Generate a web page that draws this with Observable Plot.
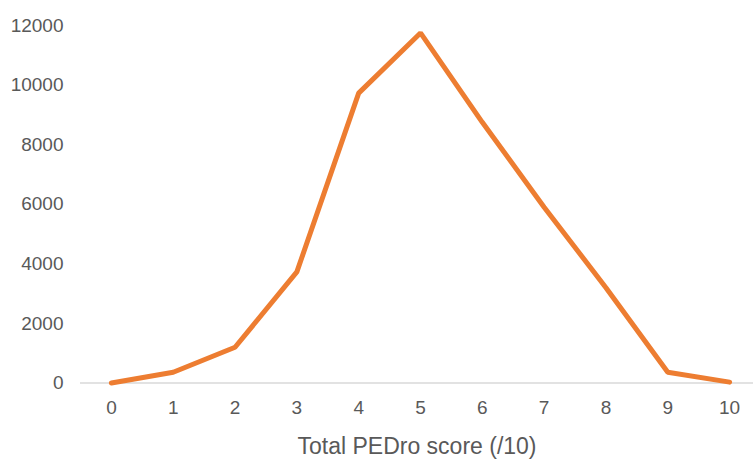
<!DOCTYPE html>
<html>
<head>
<meta charset="utf-8">
<script src="https://cdn.jsdelivr.net/npm/d3@7"></script>
<script src="https://cdn.jsdelivr.net/npm/@observablehq/plot@0.6"></script>
<style>
  html, body { margin: 0; padding: 0; background: #fff; }
  svg { overflow: hidden; }
</style>
</head>
<body>
<div id="chart"></div>
<script>
const scores = [0, 1, 2, 3, 4, 5, 6, 7, 8, 9, 10];
const counts = [0, 360, 1200, 3730, 9730, 11750, 8750, 5900, 3200, 360, 30];
const yTicks = [0, 2000, 4000, 6000, 8000, 10000, 12000];
const xTitle = "Total PEDro score (/10)";

const data = scores.map((s, i) => ({score: s, count: counts[i]}));

const chart = Plot.plot({
  width: 753,
  height: 460,
  marginTop: 25,
  marginBottom: 77.5,
  marginLeft: 80,
  marginRight: 0,
  style: {fontFamily: "'Liberation Sans', Arial, sans-serif", fontSize: "19px", color: "#595959", background: "#fff"},
  x: {domain: [-0.5, 10.5], range: [80, 760]},
  y: {domain: [0, 12000]},
  marks: [
    Plot.ruleY([0], {stroke: "#d9d9d9", strokeWidth: 1.5}),
    Plot.axisY({ticks: yTicks, tickSize: 0, tickPadding: 17, label: null, tickFormat: d => String(d), fill: "#595959"}),
    Plot.axisX({ticks: scores, tickSize: 0, tickPadding: 17, label: null, tickFormat: d => String(d), fill: "#595959"}),
    Plot.line(data, {x: "score", y: "count", stroke: "#ED7D31", strokeWidth: 5, strokeLinejoin: "miter", strokeLinecap: "round"}),
    Plot.text([xTitle], {text: d => d, frameAnchor: "bottom", lineAnchor: "middle", dy: 64, fill: "#595959", fontSize: 23})
  ]
});
document.getElementById("chart").appendChild(chart);
</script>
</body>
</html>
